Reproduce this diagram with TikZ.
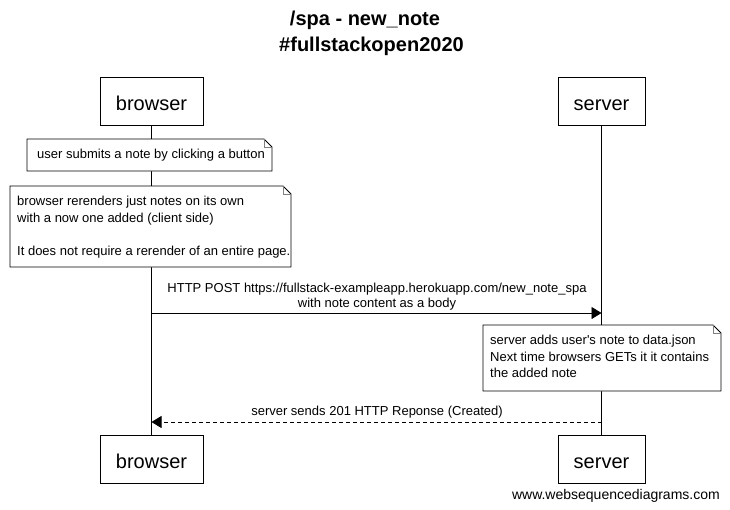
\documentclass[tikz,border=0pt]{standalone}
\usepackage{fontspec}
\setmainfont{Liberation Sans}[Ligatures=TeXOff]
\usetikzlibrary{arrows.meta}
\tikzset{
  actorbox/.style={draw=black, fill=white, line width=0.8pt, minimum width=#1, minimum height=48pt, inner sep=0pt, text height=18pt, text depth=0pt, font=\fontsize{20}{24}\selectfont},
  notetext/.style={anchor=north west, inner sep=0pt, align=left, font=\fontsize{13}{16.5}\selectfont},
  msgtext/.style={inner sep=0pt, align=center, font=\fontsize{13}{15}\selectfont},
  lifeline/.style={line width=0.8pt},
  msg/.style={line width=0.8pt, -{Triangle[length=10pt,width=12pt]}},
  replymsg/.style={msg, dash pattern=on 4pt off 3pt},
  notebox/.style={draw=black, fill=white, line width=0.8pt},
  fold/.style={draw=gray, line width=0.8pt},
}
\newcommand{\mynote}[5]{% name, x1, y1, x2, y2
  \fill[white] (#2,#3) -- (#4-8,#3) -- (#4,#3+8) -- (#4,#5) -- (#2,#5) -- cycle;
  \draw[notebox] (#2,#3) -- (#4-8,#3) -- (#4,#3+8) -- (#4,#5) -- (#2,#5) -- cycle;
  \draw[fold] (#4-8,#3) -- (#4-8,#3+8) -- (#4,#3+8);
  \coordinate (#1) at (#2,#3);
}
\begin{document}
\begin{tikzpicture}[x=1pt,y=-1pt]
\useasboundingbox (0,0) rectangle (730,509);
\fill[white] (0,0) rectangle (730,509);
% title
\node[font=\fontsize{20}{24}\bfseries\selectfont, inner sep=0pt] (t1) at (365,20) {/spa - new\_note};
\node[font=\fontsize{20}{24}\bfseries\selectfont, inner sep=0pt] (t2) at (371.5,46) {\#fullstackopen2020};
% actors
\node[actorbox=103pt] (bt) at (151.5,101.5) {browser};
\node[actorbox=87pt] (st) at (601.5,101.5) {server};
\node[actorbox=103pt] (bb) at (151.5,459) {browser};
\node[actorbox=87pt] (sb) at (601.5,459) {server};
\draw[lifeline] (bt.south) -- (bb.north);
\draw[lifeline] (st.south) -- (sb.north);
% note 1
\mynote{n1}{27}{139}{272}{171}
\node[notetext] (n1t) at (37,149) {user submits a note by clicking a button};
% note 2
\mynote{n2}{10}{186}{291}{267}
\node[notetext] (n2t) at (17,196) {browser rerenders just notes on its own\\with a now one added (client side)\\[16.5pt]It does not require a rerender of an entire page.};
% message 1
\coordinate (m1b) at (bt.south |- 0,313);
\coordinate (m1s) at (st.south |- 0,313);
\draw[msg] (m1b) -- (m1s);
\node[msgtext] (m1t) at (377,296.5) {HTTP POST https://fullstack-exampleapp.herokuapp.com/new\_note\_spa\\with note content as a body};
% note 3
\mynote{n3}{483}{325}{721}{391}
\node[notetext] (n3t) at (490,335) {server adds user's note to data.json\\Next time browsers GETs it it contains\\the added note};
% message 2
\coordinate (m2s) at (st.south |- 0,422);
\coordinate (m2b) at (bt.south |- 0,422);
\draw[replymsg] (m2s) -- (m2b);
\node[msgtext] (m2t) at (377,412) {server sends 201 HTTP Reponse (Created)};
% watermark
\node[anchor=base east, inner sep=0pt, font=\fontsize{14}{16}\selectfont] (wm) at (720,499) {www.websequencediagrams.com};
\end{tikzpicture}
\end{document}
